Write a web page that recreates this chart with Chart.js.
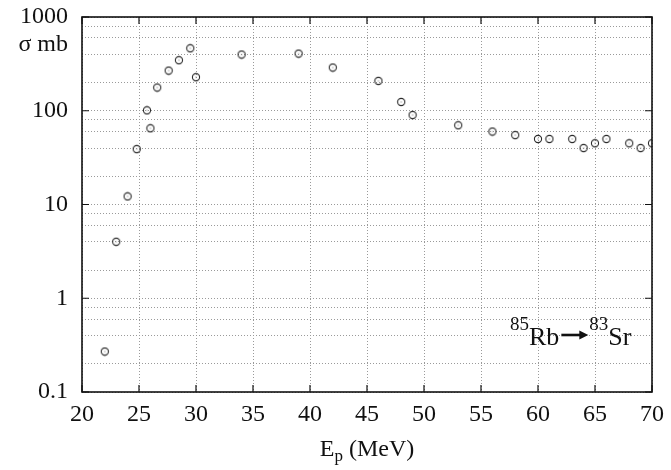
<!DOCTYPE html>
<html>
<head>
<meta charset="utf-8">
<script src="https://cdn.jsdelivr.net/npm/chart.js@4/dist/chart.umd.min.js"></script>
<style>
  html, body { margin: 0; padding: 0; background: #fff; }
  #wrap { width: 671px; height: 470px; }
</style>
</head>
<body>
<div id="wrap"><canvas id="chart" width="671" height="470"></canvas></div>
<script>
// data
const energy = [22, 23, 24, 24.8, 25.7, 26, 26.6, 27.6, 28.5, 29.5, 30, 34, 39, 42,
                46, 48, 49, 53, 56, 58, 60, 61, 63, 64, 65, 66, 68, 69, 70];
const sigma  = [0.27, 4.0, 12.2, 39, 101, 65, 177, 268, 346, 464, 228, 398, 407, 289,
                208, 124, 90, 70, 60, 55, 50, 50, 50, 40, 45, 50, 45, 40, 45];
const xTicks = [20, 25, 30, 35, 40, 45, 50, 55, 60, 65, 70];
const yDecades = [0.1, 1, 10, 100, 1000];
const yDecadeLabels = ['0.1', '1', '10', '100', '1000'];
const yMinorSteps = [2, 4, 6, 8];

const FONT = "'Liberation Serif', 'DejaVu Serif', serif";

// open circle marker with a tiny centre dot
function makeMarker() {
    const c = document.createElement('canvas');
    c.width = 10; c.height = 10;
    const g = c.getContext('2d');
    g.strokeStyle = '#2a2a2a';
    g.lineWidth = 1.1;
    g.beginPath();
    g.arc(5, 5, 3.6, 0, Math.PI * 2);
    g.stroke();
    g.fillStyle = '#777';
    g.fillRect(4.5, 4.5, 1, 1);
    return c;
}

function decadeIndex(v) {
    return yDecades.findIndex(d => Math.abs(v - d) / d < 1e-6);
}

// keep the plot box where the reference has it
function noAutoPad(s) {
    s.paddingTop = 0; s.paddingBottom = 0;
    s.paddingLeft = 0; s.paddingRight = 0;
}

const framePlugin = {
    id: 'frame',
    afterDraw(chart) {
        const ctx = chart.ctx;
        const a = chart.chartArea;
        const xs = chart.scales.x, ys = chart.scales.y;
        ctx.save();
        // frame
        ctx.strokeStyle = '#111';
        ctx.lineWidth = 1.6;
        ctx.strokeRect(a.left, a.top, a.right - a.left, a.bottom - a.top);
        // inward tick marks
        ctx.lineWidth = 1.2;
        ctx.beginPath();
        xTicks.forEach(v => {
            const px = xs.getPixelForValue(v);
            ctx.moveTo(px, a.bottom); ctx.lineTo(px, a.bottom - 7);
            ctx.moveTo(px, a.top); ctx.lineTo(px, a.top + 7);
        });
        yDecades.forEach(v => {
            const py = ys.getPixelForValue(v);
            ctx.moveTo(a.left, py); ctx.lineTo(a.left + 7, py);
            ctx.moveTo(a.right, py); ctx.lineTo(a.right - 7, py);
        });
        ctx.stroke();

        ctx.fillStyle = '#111';
        // y title under the top label
        ctx.font = '24px ' + FONT;
        ctx.textAlign = 'right';
        ctx.textBaseline = 'alphabetic';
        ctx.fillText('\u03c3 mb', 68, 51);

        // x title: E_p (MeV)
        const big = '24px ' + FONT, small = '17px ' + FONT;
        ctx.textAlign = 'left';
        ctx.font = big; const wE = ctx.measureText('E').width;
        ctx.font = small; const wp = ctx.measureText('p').width;
        ctx.font = big; const wRest = ctx.measureText(' (MeV)').width;
        let x0 = (a.left + a.right) / 2 - (wE + wp + wRest) / 2;
        const base = 456;
        ctx.font = big; ctx.fillText('E', x0, base); x0 += wE;
        ctx.font = small; ctx.fillText('p', x0, base + 5); x0 += wp;
        ctx.font = big; ctx.fillText(' (MeV)', x0, base);

        // reaction label
        let x1 = 510;
        const b2 = 345;
        const sup = '19px ' + FONT, main = '26px ' + FONT;
        ctx.font = sup; ctx.fillText('85', x1, b2 - 15); x1 += ctx.measureText('85').width;
        ctx.font = main; ctx.fillText('Rb', x1, b2); x1 += ctx.measureText('Rb').width;
        // heavy arrow
        const ay = b2 - 10, ax0 = x1 + 2, ax1 = x1 + 29;
        ctx.lineWidth = 2.6;
        ctx.beginPath(); ctx.moveTo(ax0, ay); ctx.lineTo(ax1 - 6, ay); ctx.stroke();
        ctx.beginPath();
        ctx.moveTo(ax1, ay); ctx.lineTo(ax1 - 9, ay - 4.5); ctx.lineTo(ax1 - 9, ay + 4.5);
        ctx.closePath(); ctx.fill();
        x1 = ax1 + 1;
        ctx.font = sup; ctx.fillText('83', x1, b2 - 15); x1 += ctx.measureText('83').width;
        ctx.font = main; ctx.fillText('Sr', x1, b2);
        ctx.restore();
    }
};

new Chart(document.getElementById('chart'), {
    type: 'scatter',
    data: {
        datasets: [{
            data: energy.map((e, i) => ({ x: e, y: sigma[i] })),
            pointStyle: makeMarker(),
            pointRadius: 5,
            showLine: false
        }]
    },
    options: {
        responsive: false,
        animation: false,
        devicePixelRatio: 1,
        layout: { autoPadding: false, padding: { left: 0, top: 17, right: 19, bottom: 0 } },
        plugins: { legend: { display: false }, tooltip: { enabled: false } },
        scales: {
            x: {
                type: 'linear',
                min: 20, max: 70,
                afterBuildTicks: s => { s.ticks = xTicks.map(v => ({ value: v })); },
                afterFit: s => { s.height = 78; noAutoPad(s); },
                grid: { color: '#9a9a9a', lineWidth: 1, drawTicks: false },
                border: { display: false, dash: [1, 2] },
                ticks: { color: '#111', font: { family: FONT, size: 24 }, padding: 8, maxRotation: 0 }
            },
            y: {
                type: 'logarithmic',
                min: 0.1, max: 1000,
                afterBuildTicks: s => {
                    const t = [];
                    yDecades.forEach((d, i) => {
                        t.push({ value: d });
                        if (i < yDecades.length - 1) yMinorSteps.forEach(m => t.push({ value: d * m }));
                    });
                    s.ticks = t;
                },
                afterFit: s => { s.width = 82; noAutoPad(s); },
                grid: { color: '#9a9a9a', lineWidth: 1, drawTicks: false },
                border: { display: false, dash: [1, 2] },
                ticks: {
                    color: '#111',
                    font: { family: FONT, size: 24 },
                    padding: 14,
                    autoSkip: false,
                    callback: v => {
                        const i = decadeIndex(v);
                        return i >= 0 ? yDecadeLabels[i] : '';
                    }
                }
            }
        }
    },
    plugins: [framePlugin]
});
</script>
</body>
</html>
